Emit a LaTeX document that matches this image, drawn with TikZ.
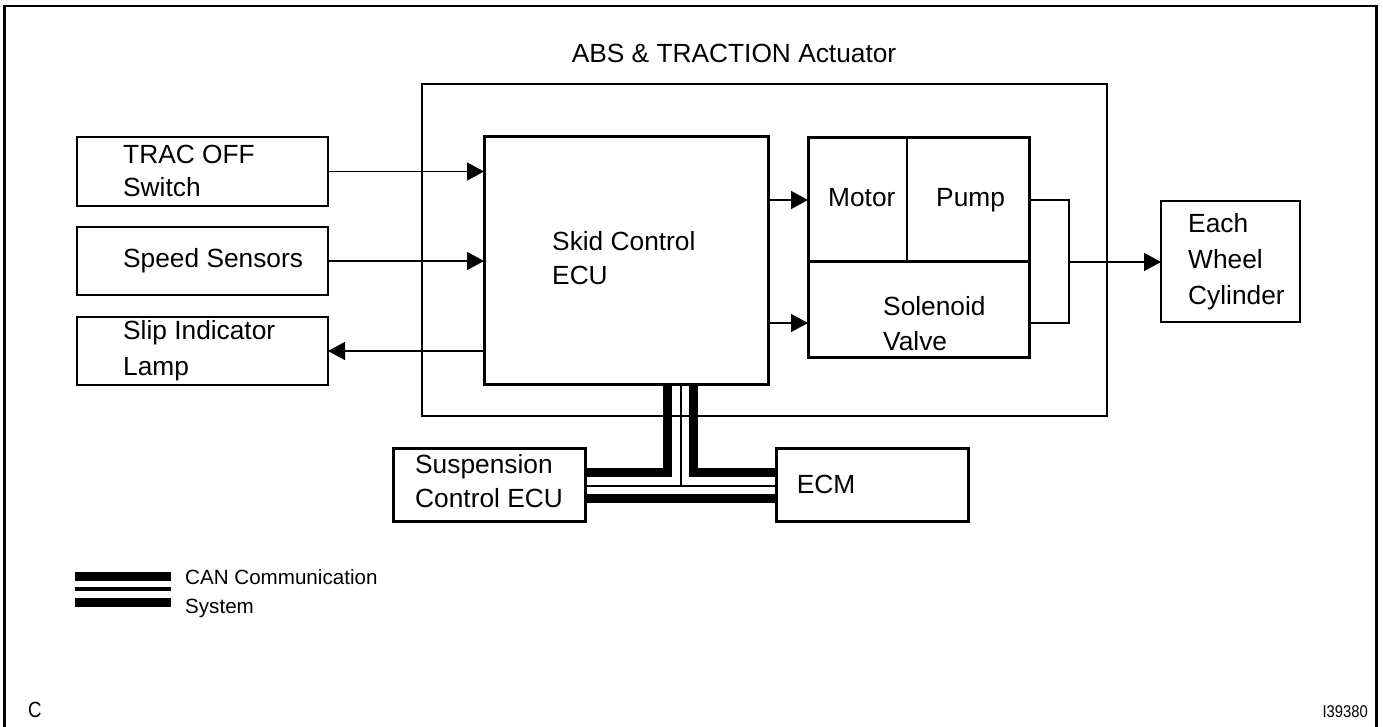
\documentclass[tikz,border=0pt]{standalone}
\usepackage{fontspec}
\setmainfont{Liberation Sans}
\usetikzlibrary{arrows.meta,calc}
\begin{document}
\begin{tikzpicture}[x=1pt,y=-1pt,
  thinbox/.style={draw, line width=1.5pt, rectangle, inner sep=0pt, outer sep=0pt},
  thickbox/.style={draw, line width=3pt, rectangle, inner sep=0pt, outer sep=0pt},
  plainbox/.style={rectangle, inner sep=0pt, outer sep=0pt},
  lbl/.style={anchor=base west, inner sep=0pt, font=\fontsize{26.3}{30}\selectfont},
  small/.style={anchor=base west, inner sep=0pt, font=\fontsize{20.6}{24}\selectfont},
  conn/.style={line width=1.4pt},
  arr/.style={line width=1.4pt, -{Triangle[length=17pt,width=18pt]}},
  bus/.style={line width=9pt, line join=miter, line cap=butt},
  busthin/.style={line width=2.2pt, line cap=butt}
]
\useasboundingbox (0,0) rectangle (1383,727);
\fill[white] (0,0) rectangle (1383,727);
% outer frame
\begin{scope}
\clip (0,0) rectangle (1383,727);
\draw[line width=2.6pt] (4.5,745) -- (4.5,6) -- (1376.5,6) -- (1376.5,745);
\end{scope}

% actuator
\node[thinbox, minimum width=685pt, minimum height=332pt] (act) at (764.5,250) {};
\node[anchor=base, inner sep=0pt, font=\fontsize{26.3}{30}\selectfont] (acttitle) at (734,63) {ABS \& TRACTION Actuator};

% left boxes
\node[thinbox, minimum width=251pt, minimum height=69pt] (trac) at (202.5,171.5) {};
\node[thinbox, minimum width=251pt, minimum height=68pt] (speed) at (202.5,261) {};
\node[thinbox, minimum width=251pt, minimum height=68pt] (slip) at (202.5,351) {};
\node[lbl] (tracA) at (123,164) {TRAC OFF};
\node[lbl] (tracB) at (123,197) {Switch};
\node[lbl] (speedA) at (123,268) {Speed Sensors};
\node[lbl] (slipA) at (123,339.5) {Slip Indicator};
\node[lbl] (slipB) at (123,375.5) {Lamp};

% ECU
\node[thickbox, minimum width=284pt, minimum height=247pt] (ecu) at (626,260.5) {};
\node[lbl] (ecuA) at (552,251) {Skid Control};
\node[lbl] (ecuB) at (552,284) {ECU};

% motor / pump / solenoid
\node[thinbox, minimum width=99pt, minimum height=124pt] (motor) at (857.5,200) {};
\node[thinbox, minimum width=122pt, minimum height=124pt] (pump) at (968,200) {};
\node[thickbox, minimum width=221pt, minimum height=95pt] (sol) at (918.5,309.5) {};
\node[thickbox, minimum width=221pt, minimum height=219pt] (mps) at (918.5,247.5) {};
\node[lbl] (motorA) at (828,207) {Motor};
\node[lbl] (pumpA) at (936,207) {Pump};
\node[lbl] (solA) at (883,315) {Solenoid};
\node[lbl] (solB) at (883,350) {Valve};

% wheel
\node[thinbox, minimum width=139pt, minimum height=121pt] (wheel) at (1230.5,261.5) {};
\node[lbl] (wA) at (1188,233) {Each};
\node[lbl] (wB) at (1188,269) {Wheel};
\node[lbl] (wC) at (1188,304.5) {Cylinder};

% bottom boxes
\node[thickbox, minimum width=192pt, minimum height=73pt] (susp) at (489,484.5) {};
\node[thickbox, minimum width=192pt, minimum height=73pt] (ecm) at (872,484.5) {};
\node[lbl] (suspA) at (415,473) {Suspension};
\node[lbl] (suspB) at (415,507) {Control ECU};
\node[anchor=base, inner sep=0pt, font=\fontsize{26.3}{30}\selectfont] (ecmA) at (826,493) {ECM};

% connectors
\draw[arr] (trac.east) -- (trac.east -| ecu.west);
\draw[arr] (speed.east) -- (speed.east -| ecu.west);
\draw[arr] (slip.east -| ecu.west) -- (slip.east);
\draw[arr] (motor.west -| ecu.east) -- (motor.west);
\coordinate (sv) at (808,323);
\draw[arr] (sv -| ecu.east) -- (sv);
\coordinate (j) at (1069,262);
\draw[conn] (pump.east) -- (pump.east -| j) -- (j |- sv) -- (sv -| sol.east);
\draw[arr] (j) -- (j -| wheel.west);

% CAN bus
\coordinate (bl) at (667.5,472.5);
\coordinate (br) at (693.5,472.5);
\coordinate (bc) at (681,486);
\coordinate (bb) at (681,498.5);
\draw[bus] (bl |- ecu.south) -- (bl) -- (bl -| susp.east);
\draw[bus] (br |- ecu.south) -- (br) -- (br -| ecm.west);
\draw[busthin] (bc |- ecu.south) -- (bc);
\draw[busthin] (bc -| susp.east) -- (bc -| ecm.west);
\draw[bus] (bb -| susp.east) -- (bb -| ecm.west);

% legend
\fill (75,572) rectangle (171,581);
\fill (75,587) rectangle (171,591);
\fill (75,598) rectangle (171,607);
\node[small] (legA) at (185,584) {CAN Communication};
\node[small] (legB) at (185,613) {System};

% corner marks
\node[anchor=base west, inner sep=0pt, font=\fontsize{22}{24}\selectfont, xscale=0.85] (cmark) at (28,717) {C};
\node[anchor=base east, inner sep=0pt, font=\fontsize{17}{20}\selectfont, xscale=0.87] (idmark) at (1368,717) {I39380};
\end{tikzpicture}
\end{document}
